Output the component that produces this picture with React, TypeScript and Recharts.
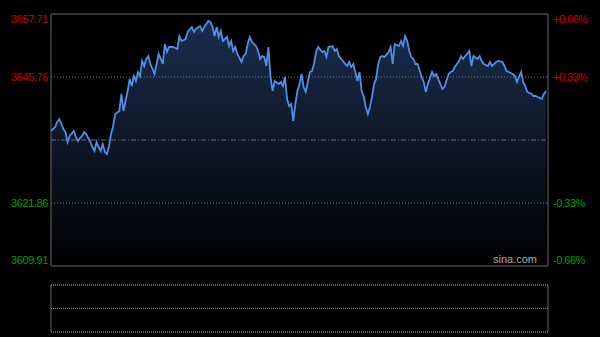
import { ComposedChart, LineChart, Line, Area, XAxis, YAxis, ReferenceLine, CartesianGrid } from 'recharts'

// minutes since 9:30 (0..240) and index values
const minutes = [
  0, 2, 3, 4, 5, 6, 7, 8, 9, 11, 12, 13, 14, 15, 16, 17, 19, 20, 21, 22, 23, 24, 25, 26, 27, 28, 29, 30, 31, 33, 34, 35,
  36, 37, 38, 39, 40, 41, 42, 43, 44, 45, 46, 47, 48, 49, 50, 52, 53, 54, 55, 56, 57, 59, 61, 62, 63, 65, 66, 68, 69, 70,
  72, 73, 74, 76, 77, 78, 79, 80, 81, 82, 83, 85, 86, 87, 88, 89, 90, 92, 93, 94, 95, 96, 97, 99, 100, 101, 102, 103, 104, 105,
  106, 107, 108, 110, 111, 112, 113, 114, 115, 116, 117, 118, 119, 120, 121, 122, 123, 124, 125, 126, 127, 128, 129, 131, 132, 133, 134, 136,
  137, 138, 139, 141, 142, 143, 144, 145, 146, 148, 149, 150, 151, 152, 153, 154, 155, 156, 157, 158, 159, 160, 161, 163, 164, 165,
  166, 168, 169, 170, 171, 172, 173, 174, 175, 176, 177, 179, 180, 181, 182, 184, 185, 186, 187, 188, 189, 190, 192, 193, 194, 195,
  197, 198, 199, 200, 201, 202, 203, 204, 206, 207, 208, 209, 211, 212, 213, 214, 215, 216, 218, 219, 220, 221, 223, 224, 225, 226,
  227, 228, 229, 230, 232, 233, 234, 235, 237, 238, 239,
]
const prices = [
  3635.52, 3636.28, 3637.23, 3637.79, 3636.85, 3635.90, 3635.33, 3633.43, 3634.57, 3635.52, 3634.38, 3633.62, 3634.19, 3634.57, 3635.33, 3634.95,
  3633.43, 3632.48, 3631.72, 3633.43, 3632.48, 3631.72, 3633.05, 3631.53, 3631.16, 3632.67, 3634.95, 3636.47, 3638.74, 3639.31, 3642.54, 3639.31,
  3641.21, 3643.11, 3645.38, 3644.05, 3645.95, 3645.00, 3646.71, 3645.95, 3648.80, 3647.85, 3649.18, 3649.74, 3648.23, 3647.28, 3646.33, 3650.12,
  3649.18, 3648.23, 3652.02, 3650.50, 3651.45, 3651.45, 3651.07, 3653.54, 3652.59, 3652.97, 3654.30, 3655.24, 3654.30, 3654.87, 3655.43, 3654.49,
  3655.24, 3656.38, 3656.19, 3655.24, 3653.54, 3655.24, 3653.35, 3654.49, 3652.59, 3653.35, 3651.64, 3652.59, 3650.69, 3651.45, 3650.12, 3648.61,
  3649.74, 3650.12, 3652.02, 3653.35, 3652.40, 3651.64, 3650.69, 3649.18, 3649.74, 3649.55, 3647.85, 3651.45, 3645.76, 3643.11, 3645.00, 3644.43,
  3644.81, 3644.05, 3645.76, 3641.59, 3640.26, 3640.64, 3637.42, 3640.64, 3643.11, 3644.43, 3646.33, 3643.86, 3642.92, 3644.81, 3646.71, 3646.90,
  3648.23, 3650.50, 3651.45, 3650.50, 3650.69, 3649.55, 3651.45, 3651.64, 3650.69, 3651.07, 3649.74, 3648.80, 3648.23, 3647.85, 3648.61, 3647.66,
  3648.23, 3645.00, 3646.71, 3643.11, 3642.16, 3640.07, 3638.74, 3640.07, 3641.97, 3644.43, 3645.38, 3648.23, 3649.55, 3649.74, 3649.55, 3650.50,
  3651.45, 3648.23, 3652.02, 3651.64, 3652.59, 3651.64, 3653.54, 3652.59, 3650.69, 3649.55, 3649.18, 3648.23, 3648.23, 3645.76, 3644.81, 3642.92,
  3644.43, 3646.71, 3645.95, 3646.33, 3645.38, 3644.43, 3643.48, 3643.86, 3646.33, 3646.71, 3646.90, 3647.66, 3648.80, 3649.74, 3649.18, 3649.74,
  3650.12, 3650.69, 3647.85, 3649.74, 3649.18, 3649.74, 3648.80, 3648.23, 3647.85, 3648.61, 3647.85, 3648.23, 3648.61, 3648.80, 3648.61, 3647.85,
  3646.90, 3646.71, 3646.33, 3645.95, 3644.81, 3645.76, 3646.71, 3644.81, 3644.05, 3642.92, 3642.54, 3642.16, 3642.16, 3641.97, 3641.59, 3642.54,
  3643.11,
]

const prevClose = 3633.81
const priceTicks = [3609.91, 3621.86, 3633.81, 3645.76, 3657.71]
// lower (volume) panel is empty in the picture: just its frame
const lowTicks = [0, 1, 2]
const lowData = [{ m: 0, vol: null }, { m: 240, vol: null }]

const data = minutes.map((m, i) => ({ m, price: prices[i] }))

const RED = '#cc0000'
const GREEN = '#00a000'
const FONT = 'Arial, "Liberation Sans", sans-serif'

const nudge = (v: number) => (v === priceTicks[4] ? 5 : v === priceTicks[0] ? -6 : 0)

const LeftTick = ({ y, payload }: any) => {
  const v = payload.value
  if (v === prevClose) return <g />
  return (
    <text x={48} y={y + nudge(v)} dy={4} textAnchor="end" fontSize={11} letterSpacing={-0.4} fontFamily={FONT}
      fill={v > prevClose ? RED : GREEN}>{v.toFixed(2)}</text>
  )
}

const RightTick = ({ y, payload }: any) => {
  const v = payload.value
  if (v === prevClose) return <g />
  const pct = ((v - prevClose) / prevClose) * 100
  return (
    <text x={553} y={y + nudge(v)} dy={4} textAnchor="start" fontSize={11} letterSpacing={-0.5} fontFamily={FONT}
      fill={v > prevClose ? RED : GREEN}>{(pct > 0 ? '+' : '') + pct.toFixed(2) + '%'}</text>
  )
}

const Watermark = ({ viewBox }: any) => (
  <text x={viewBox.x + viewBox.width - 11} y={viewBox.y - 3} textAnchor="end" fontSize={11} fontFamily={FONT}
    fill="#a8a8a8">sina.com</text>
)

export default function App() {
  return (
    <div style={{ position: 'fixed', left: 0, top: 0, width: 600, height: 337, background: '#000' }}>
      <ComposedChart width={600} height={280} data={data} margin={{ top: 14, right: 0, left: 0, bottom: 14 }}>
        <defs>
          <linearGradient id="fillBlue" x1="0" y1="0" x2="0" y2="1">
            <stop offset="0%" stopColor="#1b2d4d" />
            <stop offset="100%" stopColor="#000000" />
          </linearGradient>
        </defs>
        <XAxis dataKey="m" type="number" domain={[0, 240]} hide />
        <YAxis yAxisId="l" domain={[priceTicks[0], priceTicks[4]]} ticks={priceTicks} width={51}
          axisLine={false} tickLine={false} tick={LeftTick} allowDataOverflow />
        <YAxis yAxisId="r" orientation="right" domain={[priceTicks[0], priceTicks[4]]} ticks={priceTicks} width={52}
          axisLine={false} tickLine={false} tick={RightTick} allowDataOverflow />
        <ReferenceLine yAxisId="l" y={priceTicks[3]} stroke="#777" strokeDasharray="1 2" />
        <ReferenceLine yAxisId="l" y={priceTicks[1]} stroke="#777" strokeDasharray="1 2" />
        <Area yAxisId="l" dataKey="price" type="linear" stroke="none" fill="url(#fillBlue)" fillOpacity={1}
          isAnimationActive={false} />
        <ReferenceLine yAxisId="l" y={prevClose} stroke="#6a6a6a" strokeDasharray="5 2 1 2" />
        <Line yAxisId="l" dataKey="price" type="linear" stroke="#4f8fe8" strokeWidth={1.8} dot={false}
          isAnimationActive={false} />
        <ReferenceLine yAxisId="l" y={priceTicks[4]} stroke="#666" />
        <ReferenceLine yAxisId="l" y={priceTicks[0]} stroke="#666" label={Watermark} />
        <ReferenceLine yAxisId="l" x={0} stroke="#666" />
        <ReferenceLine yAxisId="l" x={240} stroke="#666" />
      </ComposedChart>
      <div style={{ position: 'absolute', left: 0, top: 280 }}>
        <LineChart width={600} height={57} data={lowData} margin={{ top: 5, right: 52, left: 51, bottom: 5 }}>
          <XAxis dataKey="m" type="number" domain={[0, 240]} hide allowDataOverflow />
          <YAxis type="number" domain={[0, 2]} ticks={lowTicks} hide allowDataOverflow />
          <CartesianGrid vertical={false} stroke="#888" strokeDasharray="1 1" horizontalPoints={[5, 28.5, 52]} />
          <Line dataKey="vol" stroke="#4f8fe8" dot={false} isAnimationActive={false} />
          {lowTicks.map(t => (
            <ReferenceLine key={t} y={t} stroke="#888" strokeDasharray="1 1" />
          ))}
          <ReferenceLine x={0} stroke="#666" />
          <ReferenceLine x={240} stroke="#666" />
        </LineChart>
      </div>
    </div>
  )
}
